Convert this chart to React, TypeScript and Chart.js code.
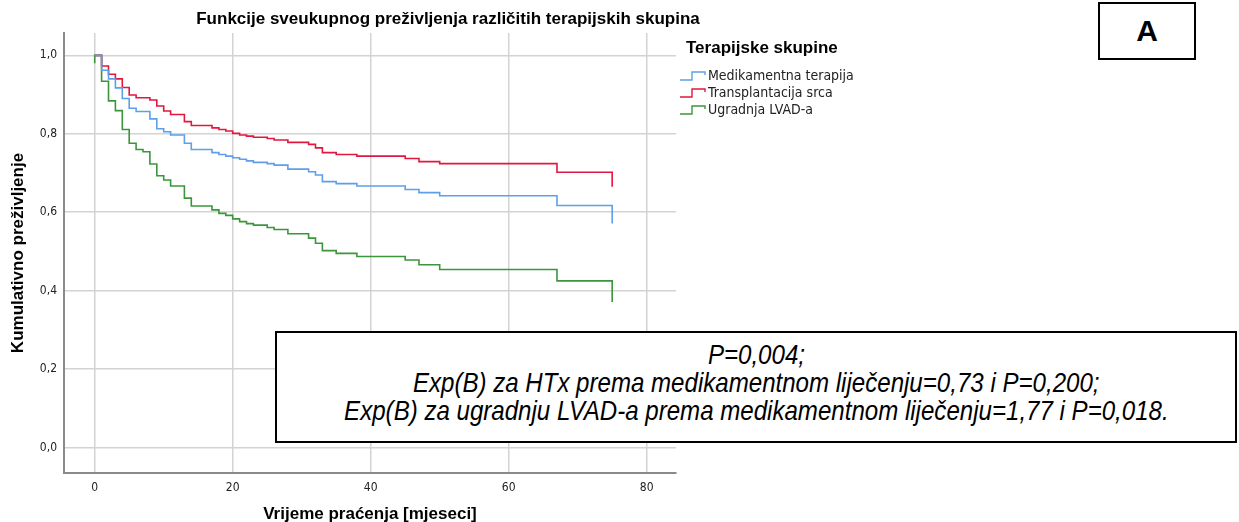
import React, { useEffect, useRef } from 'react';
import { Chart, registerables } from 'chart.js';

Chart.register(...registerables);

const chartTitle = 'Funkcije sveukupnog preživljenja različitih terapijskih skupina';
const xAxisTitle = 'Vrijeme praćenja [mjeseci]';
const yAxisTitle = 'Kumulativno preživljenje';
const legendTitle = 'Terapijske skupine';
const groupNames = ['Medikamentna terapija', 'Transplantacija srca', 'Ugradnja LVAD-a'];
const groupColors = ['#5e9fea', '#e2173f', '#3b963b'];
const xTicks = [0, 20, 40, 60, 80];
const yTicks = [0, 0.2, 0.4, 0.6, 0.8, 1.0];

const medTimes = [0, 1, 2, 3, 4, 5, 6, 8, 9, 10, 11, 13, 14, 17, 18, 19, 20, 21, 22, 23, 25, 26, 28, 31, 32, 33, 35, 38, 45, 47, 50, 67, 75];
const medSurv = [1.0, 0.962, 0.94, 0.917, 0.89, 0.865, 0.857, 0.838, 0.813, 0.805, 0.797, 0.776, 0.76, 0.752, 0.747, 0.743, 0.739, 0.735, 0.731, 0.727, 0.724, 0.72, 0.71, 0.703, 0.695, 0.678, 0.673, 0.667, 0.658, 0.65, 0.642, 0.617, 0.571];

const htxTimes = [0, 1, 2, 3, 4, 5, 6, 8, 9, 10, 11, 13, 14, 17, 18, 19, 20, 21, 22, 23, 25, 26, 28, 31, 32, 33, 35, 38, 45, 47, 50, 67, 75];
const htxSurv = [1.0, 0.973, 0.952, 0.94, 0.918, 0.899, 0.892, 0.886, 0.871, 0.858, 0.849, 0.831, 0.821, 0.815, 0.811, 0.807, 0.801, 0.797, 0.794, 0.791, 0.788, 0.784, 0.778, 0.773, 0.764, 0.752, 0.747, 0.743, 0.737, 0.729, 0.724, 0.702, 0.665];

const lvadTimes = [0, 0, 1, 2, 3, 4, 5, 6, 7, 8, 9, 10, 11, 13, 14, 17, 18, 19, 20, 21, 22, 23, 25, 26, 28, 31, 32, 33, 35, 38, 45, 47, 50, 67, 75];
const lvadSurv = [0.98, 1.0, 0.934, 0.884, 0.859, 0.811, 0.776, 0.76, 0.754, 0.723, 0.693, 0.682, 0.667, 0.636, 0.616, 0.606, 0.597, 0.592, 0.583, 0.576, 0.571, 0.567, 0.561, 0.556, 0.545, 0.534, 0.521, 0.502, 0.495, 0.487, 0.478, 0.466, 0.454, 0.425, 0.371];

const statLines = [
  'P=0,004;',
  'Exp(B) za HTx prema medikamentnom liječenju=0,73 i P=0,200;',
  'Exp(B) za ugradnju LVAD-a prema medikamentnom liječenju=1,77 i P=0,018.',
];
const panelLabel = 'A';

const SANS = '"Liberation Sans", Arial, sans-serif';
const NARROW = '"Liberation Sans Narrow", "Arial Narrow", "DejaVu Sans Condensed", sans-serif';

const toPoints = (times: number[], surv: number[]) => times.map((t, i) => ({ x: t, y: surv[i] }));

const overlayPlugin = {
  id: 'overlay',
  afterDraw(chart: any) {
    const ctx = chart.ctx as CanvasRenderingContext2D;
    const { top, bottom } = chart.chartArea;
    ctx.save();
    ctx.fillStyle = '#000';
    ctx.textAlign = 'center';
    ctx.textBaseline = 'middle';
    ctx.font = `bold 17px ${SANS}`;
    ctx.fillText(chartTitle, 448, 19);
    ctx.fillText(xAxisTitle, 370, 514);
    ctx.save();
    ctx.translate(18, (top + bottom) / 2);
    ctx.rotate(-Math.PI / 2);
    ctx.fillText(yAxisTitle, 0, 0);
    ctx.restore();

    // legend
    ctx.textAlign = 'left';
    ctx.font = `bold 17px ${SANS}`;
    ctx.fillText(legendTitle, 686, 48);
    ctx.font = `14px ${NARROW}`;
    groupNames.forEach((name, i) => {
      const y = 76 + i * 17;
      ctx.strokeStyle = groupColors[i];
      ctx.lineWidth = 1.4;
      ctx.beginPath();
      ctx.moveTo(680, y + 4);
      ctx.lineTo(692, y + 4);
      ctx.lineTo(692, y - 4);
      ctx.lineTo(705, y - 4);
      ctx.lineTo(705, y - 1);
      ctx.stroke();
      ctx.fillStyle = '#222';
      ctx.fillText(name, 708, y);
    });
    ctx.restore();
  },
};

export default function App() {
  const canvasRef = useRef<HTMLCanvasElement | null>(null);

  useEffect(() => {
    if (!canvasRef.current) return;
    const datasets = [
      { label: groupNames[0], data: toPoints(medTimes, medSurv), borderColor: groupColors[0] },
      { label: groupNames[1], data: toPoints(htxTimes, htxSurv), borderColor: groupColors[1] },
      { label: groupNames[2], data: toPoints(lvadTimes, lvadSurv), borderColor: groupColors[2] },
    ].map((d) => ({ ...d, stepped: true, borderWidth: 1.6, pointRadius: 0, fill: false, tension: 0 }));

    const chart = new Chart(canvasRef.current, {
      type: 'line',
      data: { datasets },
      options: {
        animation: false,
        responsive: false,
        events: [],
        layout: { padding: { top: 33, right: 563, left: 0, bottom: 0 } },
        plugins: { legend: { display: false }, tooltip: { enabled: false }, title: { display: false } },
        scales: {
          x: {
            type: 'linear',
            min: -4.45,
            max: 84.25,
            afterBuildTicks: (s: any) => { s.ticks = xTicks.map((v) => ({ value: v })); },
            afterFit: (s: any) => { s.height = 49; },
            grid: { color: '#d3d3d3', lineWidth: 1.5, drawTicks: false },
            border: { color: '#8a8a8a', width: 2 },
            ticks: { padding: 8, color: '#222', font: { family: NARROW, size: 12 }, callback: (v: any) => String(v), maxRotation: 0 },
          },
          y: {
            type: 'linear',
            min: -0.065,
            max: 1.057,
            afterBuildTicks: (s: any) => { s.ticks = yTicks.map((v) => ({ value: v })); },
            afterFit: (s: any) => { s.width = 64; },
            grid: { color: '#d3d3d3', lineWidth: 1.5, drawTicks: false },
            border: { color: '#8a8a8a', width: 2 },
            ticks: { padding: 7, color: '#222', font: { family: NARROW, size: 12 }, callback: (v: any) => Number(v).toFixed(1).replace('.', ',') },
          },
        },
      },
      plugins: [overlayPlugin],
    } as any);
    return () => chart.destroy();
  }, []);

  return (
    <div style={{ position: 'absolute', left: 0, top: 0, width: 1239, height: 522, overflow: 'hidden', background: '#fff' }}>
      <canvas ref={canvasRef} width={1239} height={522} style={{ display: 'block', width: 1239, height: 522 }} />
      <div
        style={{
          position: 'absolute', left: 1098, top: 2, width: 98, height: 58, boxSizing: 'border-box',
          border: '2px solid #000', background: '#fff', display: 'flex', alignItems: 'center', justifyContent: 'center',
          fontFamily: SANS, fontWeight: 'bold', fontSize: 30, color: '#000',
        }}
      >
        {panelLabel}
      </div>
      <div
        style={{
          position: 'absolute', left: 275, top: 331, width: 962, height: 112, boxSizing: 'border-box',
          border: '2px solid #000', background: '#fff', display: 'flex', flexDirection: 'column',
          justifyContent: 'center', alignItems: 'center', paddingBottom: 8,
          fontFamily: SANS, fontStyle: 'italic', fontSize: 28, lineHeight: '28px', color: '#000',
        }}
      >
        {statLines.map((l) => (
          <div key={l} style={{ whiteSpace: 'nowrap', display: 'inline-block', transform: 'scaleX(0.86)', transformOrigin: 'center' }}>{l}</div>
        ))}
      </div>
    </div>
  );
}
